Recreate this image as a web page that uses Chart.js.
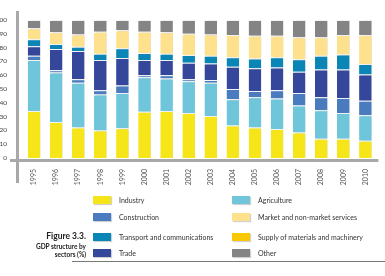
<!DOCTYPE html>
<html>
<head>
<meta charset="utf-8">
<script src="https://cdn.jsdelivr.net/npm/chart.js@4.4.1/dist/chart.umd.min.js"></script>
<style>
  html, body { margin: 0; padding: 0; background: #fff; }
  body { width: 385px; height: 276px; position: relative; overflow: hidden; font-family: Lato, "Open Sans", sans-serif; }
  #wrap { position: absolute; left: 0; top: 0; width: 385px; height: 200px; }
  .sw { position: absolute; width: 18px; height: 8px; box-shadow: 1px 1px 1px rgba(0,0,0,0.18); }
  .lt { position: absolute; font-size: 7px; color: #333; line-height: 8px; white-space: nowrap; }
  .cap { position: absolute; right: 299px; text-align: right; font-weight: bold; color: #222; white-space: nowrap; }
  #rule { position: absolute; left: 72px; top: 261px; width: 313px; height: 1px; background: #777; }
</style>
</head>
<body>
<div id="wrap"><canvas id="c" width="385" height="200"></canvas></div>
<div id="legend"></div>
<div class="cap" style="top:231px;font-size:8.5px;">Figure 3.3.</div>
<div class="cap" style="top:243px;font-size:6.5px;">GDP structure by</div>
<div class="cap" style="top:251px;font-size:6.5px;">sectors (%)</div>
<div id="rule"></div>
<script>
// ---- data ----
const years = ["1995","1996","1997","1998","1999","2000","2001","2002","2003","2004","2005","2006","2007","2008","2009","2010"];
const yTicks = [0,10,20,30,40,50,60,70,80,90,100];
const industry     = [34, 26, 22, 20, 21.5, 33.5, 34, 32.5, 30.5, 23.5, 22, 21, 18.5, 14, 14, 12.5];
const agriculture  = [37, 36, 32.5, 26, 25.5, 25, 23.5, 23, 24, 19, 22, 22, 19.5, 20.5, 18.5, 18.5];
const construction = [3, 1.5, 2.5, 3, 5.5, 1.5, 2.5, 1.5, 2, 7.5, 4.5, 6, 9, 9.5, 11, 10.5];
const trade        = [7, 15.5, 20.5, 22, 20, 11, 11, 12, 12, 16, 16.5, 16.5, 15.5, 20, 20.5, 19];
const transport    = [5, 3.5, 3, 4.5, 7, 5, 4.5, 5.5, 5.5, 7, 7, 7.5, 9, 10, 11, 7.5];
const services     = [8, 8.5, 9, 16, 13, 15.5, 15.5, 15.5, 15.5, 16, 16.5, 15.5, 16, 13.5, 14, 21];
const supply       = [0, 0, 0, 0, 0, 0, 0, 0, 0, 0, 0, 0, 0, 0, 0, 0];
const other        = [6, 9, 10.5, 8.5, 7.5, 8.5, 9, 10, 10.5, 11, 11.5, 11.5, 12.5, 12.5, 11, 11];

const seriesNames = ["Industry","Agriculture","Construction","Trade","Transport and communications","Market and non-market services","Supply of materials and machinery","Other"];
const seriesColors = ["#f6e519","#6fc6db","#4a7bbf","#34479b","#0a86b6","#fde18c","#f8c800","#848484"];
const seriesData = [industry, agriculture, construction, trade, transport, services, supply, other];

// legend order (rows, 2 columns)
const legendOrder = [
  ["Industry", 0, 0], ["Agriculture", 1, 0],
  ["Construction", 0, 1], ["Market and non-market services", 1, 1],
  ["Transport and communications", 0, 2], ["Supply of materials and machinery", 1, 2],
  ["Trade", 0, 3], ["Other", 1, 3]
];
const rowY = [196, 213, 233, 249];
const colSwX = [93, 232];
const colTxX = [119, 258];
const leg = document.getElementById('legend');
legendOrder.forEach(([name, col, row]) => {
  const i = seriesNames.indexOf(name);
  const sw = document.createElement('div');
  sw.className = 'sw';
  sw.style.left = colSwX[col] + 'px';
  sw.style.top = rowY[row] + 'px';
  sw.style.background = seriesColors[i];
  leg.appendChild(sw);
  const t = document.createElement('div');
  t.className = 'lt';
  t.style.left = colTxX[col] + 'px';
  t.style.top = rowY[row] + 'px';
  t.textContent = name;
  leg.appendChild(t);
});

const axisLines = {
  id: 'axisLines',
  afterDraw(chart) {
    const {ctx, chartArea} = chart;
    const y0 = chart.scales.y.getPixelForValue(0);
    ctx.save();
    ctx.strokeStyle = '#a8a8a8';
    ctx.lineWidth = 3;
    ctx.beginPath();
    ctx.moveTo(chartArea.left - 13, y0 + 2.5);
    ctx.lineTo(chartArea.right + 2, y0 + 2.5);
    ctx.moveTo(chartArea.left - 5.5, chartArea.top - 9);
    ctx.lineTo(chartArea.left - 5.5, chartArea.bottom + 25);
    ctx.stroke();
    ctx.restore();
  }
};
const barShadow = {
  id: 'barShadow',
  beforeDatasetsDraw(chart) {
    const ctx = chart.ctx;
    ctx.save();
    ctx.shadowColor = 'rgba(0,0,0,0.16)';
    ctx.shadowOffsetX = 2;
    ctx.shadowOffsetY = 0;
    ctx.shadowBlur = 2;
  },
  afterDatasetsDraw(chart) { chart.ctx.restore(); }
};

Chart.defaults.font.family = 'Lato, "Open Sans", sans-serif';
new Chart(document.getElementById('c'), {
  type: 'bar',
  data: {
    labels: years,
    datasets: seriesData.map((d, i) => ({
      label: seriesNames[i],
      data: d,
      backgroundColor: seriesColors[i],
      borderColor: 'rgba(255,255,255,0.85)',
      borderWidth: {top: 1, right: 0, bottom: 0, left: 0},
      borderSkipped: false,
      barPercentage: 0.57,
      categoryPercentage: 1.0
    }))
  },
  options: {
    responsive: false,
    animation: false,
    layout: { padding: { left: 0, right: 7, top: 14, bottom: 0 } },
    plugins: { legend: { display: false }, tooltip: { enabled: false } },
    scales: {
      x: {
        stacked: true,
        grid: { display: false, drawTicks: false },
        border: { display: false },
        ticks: { minRotation: 90, maxRotation: 90, padding: 11, color: '#555', font: { size: 7 }, autoSkip: false },
        afterFit(s) { s.height = 42; }
      },
      y: {
        stacked: true,
        min: 0, max: 100,
        grid: { display: false, drawTicks: false },
        border: { display: false },
        afterBuildTicks(s) { s.ticks = yTicks.map(v => ({value: v})); },
        ticks: { padding: 16, color: '#444', font: { size: 6.5 } },
        afterFit(s) { s.width = 23; }
      }
    }
  },
  plugins: [axisLines, barShadow]
});
</script>
</body>
</html>
